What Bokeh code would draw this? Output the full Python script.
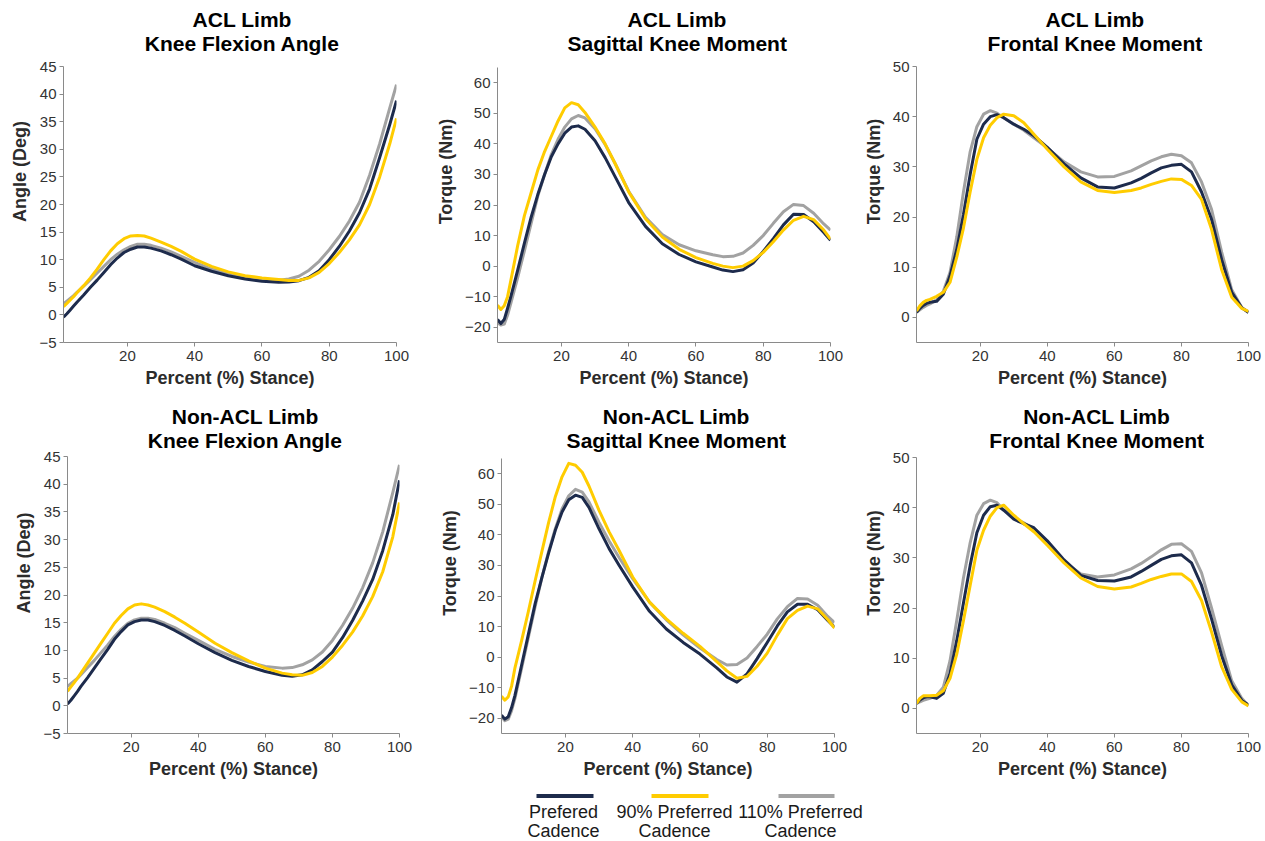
from bokeh.plotting import figure
from bokeh.layouts import column, row
from bokeh.models import Range1d, FixedTicker, Label
from bokeh.embed import file_html
from bokeh.resources import INLINE
from bokeh.core.properties import value

# ---------------- data ----------------
STANCE = [1, 2, 3, 4, 5, 7, 9, 11, 13, 15, 17, 19, 21, 23, 25, 27, 30, 33, 36, 40,
          45, 50, 55, 60, 65, 68, 71, 74, 77, 80, 83, 86, 89, 92, 95, 98, 100]

LEGEND_LINES = [["Prefered", "Cadence"], ["90% Preferred", "Cadence"], ["110% Preferred", "Cadence"]]

# ACL limb - knee flexion angle (deg)
acl_angle_pref = [-0.4, 0.2, 0.9, 1.6, 2.3, 3.6, 5.0, 6.3, 7.7, 9.1, 10.3, 11.3, 11.9, 12.3, 12.3, 12.1, 11.6, 10.9,
                  10.1, 8.9, 7.9, 7.1, 6.5, 6.1, 5.9, 5.95, 6.2, 6.8, 8.0, 10.0, 12.4, 15.2, 18.5, 22.8, 28.5, 34.5, 38.8]
acl_angle_90 = [1.5, 2.1, 2.7, 3.3, 4.0, 5.3, 6.7, 8.3, 10.0, 11.6, 12.9, 13.8, 14.3, 14.4, 14.3, 13.9, 13.2, 12.4,
                11.5, 10.1, 8.8, 7.8, 7.1, 6.7, 6.4, 6.25, 6.25, 6.7, 7.7, 9.3, 11.3, 13.6, 16.3, 20.0, 25.0, 31.0, 35.6]
acl_angle_110 = [2.0, 2.5, 3.0, 3.5, 4.1, 5.2, 6.4, 7.6, 8.8, 10.0, 11.0, 11.8, 12.4, 12.8, 12.8, 12.6, 12.1, 11.4,
                 10.6, 9.5, 8.3, 7.5, 6.9, 6.5, 6.3, 6.5, 7.0, 8.1, 9.7, 11.8, 14.2, 17.0, 20.4, 25.3, 31.0, 37.5, 41.7]

# ACL limb - sagittal knee moment (Nm)
acl_sag_pref = [-17.5, -18.8, -17.5, -13.8, -9.8, -1.3, 7.5, 16.0, 23.5, 30.0, 35.8, 40.0, 43.5, 45.5, 45.9, 44.8,
                41.0, 35.5, 29.2, 20.8, 13.0, 7.3, 3.8, 1.4, -0.3, -1.3, -1.8, -1.2, 1.0, 4.8, 9.0, 13.5, 17.0, 16.9,
                14.5, 11.0, 8.5]
acl_sag_90 = [-12.8, -14.2, -13.0, -10.0, -4.5, 6.7, 16.5, 24.0, 31.5, 37.5, 42.5, 47.5, 51.8, 53.5, 52.8, 50.3,
              45.5, 40.0, 33.5, 24.3, 15.5, 9.5, 5.5, 2.8, 0.9, 0.0, -0.5, 0.0, 1.8, 4.5, 8.0, 11.8, 15.0, 16.3,
              15.2, 11.8, 8.8]
acl_sag_110 = [-18.5, -19.3, -19.0, -16.0, -12.0, -3.8, 5.0, 14.0, 23.0, 30.0, 36.5, 41.5, 45.5, 48.2, 49.3, 48.5,
               45.0, 39.8, 33.5, 24.5, 16.0, 10.3, 7.0, 5.0, 3.7, 3.1, 3.2, 4.3, 6.8, 10.0, 14.0, 17.8, 20.2, 19.8,
               17.3, 13.8, 11.8]

# ACL limb - frontal knee moment (Nm)
acl_front_pref = [1.0, 1.8, 2.4, 2.8, 3.0, 3.2, 4.6, 8.3, 13.5, 20.5, 28.5, 35.5, 38.5, 40.0, 40.4, 39.8, 38.5, 37.5,
                  36.2, 33.9, 30.6, 27.8, 26.0, 25.8, 26.8, 27.7, 28.8, 29.8, 30.3, 30.5, 29.0, 25.0, 19.5, 11.5,
                  5.0, 1.9, 1.0]
acl_front_90 = [1.3, 2.3, 3.0, 3.4, 3.6, 4.2, 5.0, 7.0, 12.0, 17.8, 25.0, 31.5, 35.8, 38.3, 39.8, 40.5, 40.2, 38.8,
                36.5, 33.5, 30.0, 27.0, 25.3, 24.9, 25.3, 25.8, 26.5, 27.1, 27.6, 27.5, 26.3, 23.5, 17.5, 9.5,
                4.0, 1.8, 1.2]
acl_front_110 = [1.0, 1.5, 2.0, 2.4, 2.7, 3.5, 5.2, 9.0, 16.0, 25.0, 33.0, 38.0, 40.5, 41.2, 40.7, 39.8, 38.5, 37.3,
                 35.8, 33.8, 31.0, 29.0, 28.0, 28.1, 29.2, 30.2, 31.2, 32.0, 32.5, 32.2, 30.8, 27.0, 21.5, 13.0,
                 5.5, 2.0, 1.1]

# Non-ACL limb - knee flexion angle (deg)
non_angle_pref = [0.3, 1.0, 1.8, 2.6, 3.5, 5.1, 6.8, 8.5, 10.2, 12.0, 13.4, 14.6, 15.2, 15.5, 15.5, 15.2, 14.5, 13.6,
                  12.6, 11.2, 9.6, 8.2, 7.1, 6.2, 5.5, 5.35, 5.6, 6.5, 8.0, 9.7, 12.3, 15.4, 18.9, 22.8, 28.0, 34.5, 40.7]
non_angle_90 = [2.6, 3.4, 4.2, 5.0, 5.9, 7.7, 9.5, 11.3, 13.1, 14.9, 16.3, 17.5, 18.2, 18.4, 18.2, 17.8, 17.0, 16.0,
                14.9, 13.3, 11.3, 9.6, 8.1, 6.8, 5.9, 5.6, 5.5, 6.0, 7.1, 8.8, 10.9, 13.3, 16.2, 19.7, 24.2, 30.5, 36.7]
non_angle_110 = [3.5, 4.0, 4.5, 5.0, 5.6, 6.9, 8.2, 9.6, 11.0, 12.5, 13.8, 14.9, 15.5, 15.8, 15.8, 15.6, 14.9, 14.1,
                 13.1, 11.8, 10.2, 8.9, 7.9, 7.1, 6.8, 6.9, 7.4, 8.3, 9.7, 11.8, 14.5, 17.6, 21.3, 25.8, 31.4, 38.5, 43.5]

# Non-ACL limb - sagittal knee moment (Nm)
non_sag_pref = [-19.0, -20.3, -19.5, -16.5, -12.5, -2.5, 7.5, 17.5, 26.0, 34.0, 41.5, 47.5, 51.5, 53.0, 52.3, 49.0,
                42.0, 35.5, 30.0, 23.0, 15.0, 9.2, 4.8, 1.0, -3.5, -6.5, -8.2, -5.5, -0.5, 4.8, 10.2, 14.8, 17.3, 17.3,
                15.5, 12.0, 9.8]
non_sag_90 = [-12.8, -14.1, -13.0, -9.5, -3.5, 5.5, 15.0, 25.0, 34.5, 44.0, 52.5, 59.0, 63.4, 62.8, 60.5, 56.0,
              48.0, 41.0, 34.8, 26.2, 18.0, 12.5, 7.8, 3.5, -1.5, -4.5, -6.9, -6.3, -3.0, 1.3, 7.2, 12.6, 15.3, 16.7,
              15.8, 12.3, 9.5]
non_sag_110 = [-19.5, -20.8, -20.3, -17.5, -13.5, -3.5, 6.5, 16.5, 26.0, 34.5, 42.0, 48.5, 52.8, 54.9, 54.0, 50.8,
               44.1, 38.0, 32.5, 25.7, 18.0, 12.2, 7.3, 3.0, -0.8, -2.6, -2.4, -0.3, 3.5, 7.5, 12.5, 16.5, 19.2, 19.0,
               17.0, 13.3, 11.3]

# Non-ACL limb - frontal knee moment (Nm)
non_front_pref = [1.0, 1.7, 2.1, 2.3, 2.3, 2.0, 3.0, 7.0, 13.5, 21.0, 28.5, 35.0, 38.5, 40.2, 40.5, 39.5, 37.7, 36.8,
                  36.0, 33.4, 29.6, 26.5, 25.5, 25.4, 26.2, 27.3, 28.5, 29.7, 30.4, 30.6, 29.0, 24.5, 17.8, 10.5,
                  4.7, 1.6, 0.7]
non_front_90 = [1.0, 2.0, 2.5, 2.5, 2.5, 2.6, 3.5, 6.0, 10.8, 17.5, 24.5, 31.5, 35.5, 38.3, 40.0, 40.5, 38.5, 36.8,
                35.2, 32.5, 29.0, 26.0, 24.3, 23.8, 24.2, 24.9, 25.7, 26.3, 26.8, 26.8, 25.3, 21.5, 15.2, 8.3,
                3.8, 1.3, 0.5]
non_front_110 = [1.0, 1.3, 1.6, 1.8, 2.0, 2.6, 4.2, 9.5, 17.5, 26.0, 33.0, 38.5, 40.8, 41.5, 41.0, 39.6, 38.0, 37.0,
                 35.7, 33.0, 29.3, 26.8, 26.2, 26.6, 27.8, 28.9, 30.2, 31.6, 32.7, 32.8, 31.3, 27.0, 20.0, 12.5,
                 5.5, 2.0, 0.5]

X_TICKS = [20, 40, 60, 80, 100]
ANGLE_TICKS = [-5, 0, 5, 10, 15, 20, 25, 30, 35, 40, 45]
SAG_TICKS = [-20, -10, 0, 10, 20, 30, 40, 50, 60]
FRONT_TICKS = [0, 10, 20, 30, 40, 50]

# ---------------- styling ----------------
NAVY = "#1d2b4c"
GOLD = "#ffcc00"
GRAY = "#a2a2a2"
AXC = "#8a8a8a"
FONT = "Liberation Sans"
X0, X1 = 1, 100


def panel(w, h, left, right, bottom, top_px, yr, yticks, ylabel, t1, t2, tcx, t1y, t2y, pref, p90, p110):
    """top_px: distance (px) from the canvas top to the y-axis maximum.
    The frame is extended upward so that the two-line title can live inside it."""
    fw = w - left - right
    fh = h - bottom
    ymin, ymax = yr
    ppu = (fh - top_px) / (ymax - ymin)
    ytop = ymax + top_px / ppu
    p = figure(width=w, height=h, x_range=Range1d(X0, X1), y_range=Range1d(ymin, ytop),
               output_backend="svg", toolbar_location=None,
               min_border_left=left, min_border_right=right,
               min_border_top=0, min_border_bottom=bottom)
    p.line(STANCE, p110, line_color=GRAY, line_width=3, line_join="round")
    p.line(STANCE, pref, line_color=NAVY, line_width=3, line_join="round")
    p.line(STANCE, p90, line_color=GOLD, line_width=3, line_join="round")

    p.xaxis.ticker = FixedTicker(ticks=X_TICKS)
    p.yaxis.ticker = FixedTicker(ticks=yticks)
    p.yaxis.bounds = (ymin, ymax)
    p.xaxis.axis_label = "Percent (%) Stance)"
    p.yaxis.axis_label = ylabel
    for ax in (p.xaxis[0], p.yaxis[0]):
        ax.axis_line_color = AXC
        ax.major_tick_line_color = AXC
        ax.minor_tick_line_color = None
        ax.major_tick_in = 0
        ax.major_tick_out = 4
        ax.major_label_text_font = FONT
        ax.major_label_text_font_size = "15px"
        ax.major_label_text_color = "#333333"
        ax.axis_label_text_font = FONT
        ax.axis_label_text_font_size = "18px"
        ax.axis_label_text_font_style = "bold"
        ax.axis_label_text_color = "#2b2b2b"
    p.xaxis.major_label_standoff = 4
    p.xaxis.axis_label_standoff = 4
    p.yaxis.major_label_standoff = 3
    p.yaxis.axis_label_standoff = 6
    p.grid.visible = False
    p.outline_line_color = None

    xppu = fw / (X1 - X0)
    for txt, cy in ((t1, t1y), (t2, t2y)):
        p.add_layout(Label(x=X0 + tcx / xppu, y=ytop - cy / ppu, text=txt,
                           text_align="center", text_baseline="middle",
                           text_font=FONT, text_font_size="21px",
                           text_font_style="bold", text_color="black"))
    return p


# row 1: canvas 0..392, frame top at canvas top, axis max at ~66 px, frame bottom at 342
f1 = panel(430, 392, 63, 34, 50, 66, (-5, 45), ANGLE_TICKS, "Angle (Deg)",
           "ACL Limb", "Knee Flexion Angle", 178.7, 18.5, 42.5,
           acl_angle_pref, acl_angle_90, acl_angle_110)
f2 = panel(430, 392, 67, 30, 50, 67, (-25, 65), SAG_TICKS, "Torque (Nm)",
           "ACL Limb", "Sagittal Knee Moment", 179.7, 18.5, 42.5,
           acl_sag_pref, acl_sag_90, acl_sag_110)
f3 = panel(405, 392, 55, 17, 50, 66, (-5, 50), FRONT_TICKS, "Torque (Nm)",
           "ACL Limb", "Frontal Knee Moment", 179.0, 18.5, 42.5,
           acl_front_pref, acl_front_90, acl_front_110)
# row 2: canvas 392..783, axis max near 457, frame bottom at 733
f4 = panel(430, 391, 67, 31, 50, 64, (-5, 45), ANGLE_TICKS, "Angle (Deg)",
           "Non-ACL Limb", "Knee Flexion Angle", 177.7, 24, 48,
           non_angle_pref, non_angle_90, non_angle_110)
f5 = panel(430, 391, 71, 26, 50, 66, (-25, 65), SAG_TICKS, "Torque (Nm)",
           "Non-ACL Limb", "Sagittal Knee Moment", 174.8, 24, 48,
           non_sag_pref, non_sag_90, non_sag_110)
f6 = panel(405, 391, 55, 17, 50, 65, (-5, 50), FRONT_TICKS, "Torque (Nm)",
           "Non-ACL Limb", "Frontal Knee Moment", 180.7, 24, 48,
           non_front_pref, non_front_90, non_front_110)

# ---------------- legend strip (canvas 783..841) ----------------
lg = figure(width=1265, height=58, x_range=Range1d(0, 1265), y_range=Range1d(58, 0),
            output_backend="svg", toolbar_location=None,
            x_axis_location=None, y_axis_location=None,
            min_border_left=0, min_border_right=0, min_border_top=0, min_border_bottom=0)
lg.grid.visible = False
lg.outline_line_color = None
line_x0 = [536, 651, 778]
line_x1 = [593, 708, 834]
text_cx = [563, 674, 800]
colors = [NAVY, GOLD, GRAY]
lg.segment(x0=line_x0, y0=[12.5] * 3, x1=line_x1, y1=[12.5] * 3, line_color=colors, line_width=4)
lg.text(x=text_cx, y=[28.5] * 3, text=[l[0] for l in LEGEND_LINES], text_align="center",
        text_baseline="middle", text_font=value(FONT), text_font_size="18px", text_color="#1a1a1a")
lg.text(x=text_cx, y=[47.5] * 3, text=[l[1] for l in LEGEND_LINES], text_align="center",
        text_baseline="middle", text_font=value(FONT), text_font_size="18px", text_color="#1a1a1a")

layout = column(row(f1, f2, f3), row(f4, f5, f6), lg)
open("out.html", "w").write(file_html(layout, INLINE))
